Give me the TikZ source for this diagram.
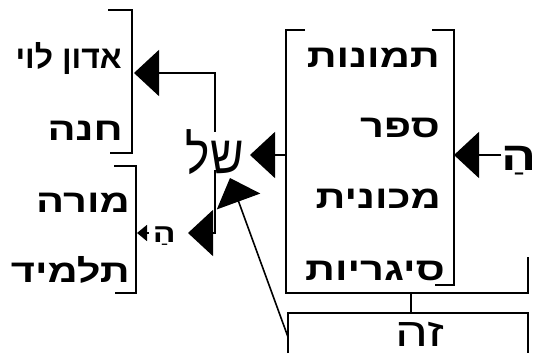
\documentclass[tikz,border=0pt]{standalone}
\usepackage{fontspec}
\newfontfamily\hebfont[Script=Hebrew,FakeStretch=1.3]{Liberation Sans}
\newfontfamily\hebplain[Script=Hebrew]{Liberation Sans}
\newfontfamily\hebnarrow[Script=Hebrew,FakeStretch=0.85]{Liberation Sans}
\TeXXeTstate=1
\usetikzlibrary{arrows.meta,positioning}
\newcommand\rtl[1]{\beginR#1\endR}

\begin{document}
\begin{tikzpicture}[
    x=1pt, y=-1pt,
    word/.style={font=\hebfont\bfseries\fontsize{32}{32}\selectfont, anchor=base east, inner sep=0pt},
    bigword/.style={font=\hebnarrow\fontsize{54}{54}\selectfont, anchor=base east, inner sep=0pt},
    article/.style={font=\hebfont\bfseries\fontsize{40}{40}\selectfont, anchor=base east, inner sep=0pt},
    bracket/.style={line width=1.6pt},
    bigarrow/.style={line width=1.6pt, -{Triangle[length=25pt,width=46pt]}},
    smallarrow/.style={line width=1.6pt, -{Triangle[length=10pt,width=16pt]}},
    coord/.style={coordinate}
]
    \useasboundingbox (0,0) rectangle (540,353);

    % Rechte Liste (Objekte)
    \node[word] (pics) at (440,67) {\rtl{תמונות}};
    \node[word] (book) at (440,137) {\rtl{ספר}};
    \node[word] (car) at (441,208) {\rtl{מכונית}};
    \node[word] (cigs) at (445,280) {\rtl{סיגריות}};
    \draw[bracket] (305,30) -- (286,30) -- (286,293) -- (528,293) -- (528,257);
    \draw[bracket] (432,30) -- (454,30) -- (454,285) -- (435,285);

    % Linke Listen (Besitzer)
    \node[word, font=\hebplain\bfseries\fontsize{32}{32}\selectfont] (levi) at (122,68) {\rtl{אדון לוי}};
    \node[word] (hana) at (123,140) {\rtl{חנה}};
    \node[word] (teacher) at (130,212) {\rtl{מורה}};
    \node[word] (pupil) at (130,282) {\rtl{תלמיד}};
    \draw[bracket] (108,10) -- (132,10) -- (132,153) -- (110,153);
    \draw[bracket] (114,166) -- (136,166) -- (136,293) -- (115,293);

    % Mitte und unten
    \node[bigword] (shel) at (244,173) {\rtl{של}};
    \node[article] (artR) at (537,170) {\rtl{הַ}};
    \node[word, font=\hebfont\bfseries\fontsize{26}{26}\selectfont] (artL) at (176,242) {\rtl{הַ}};
    \node[article, font=\hebfont\fontsize{40}{40}\selectfont] (zeh) at (444,346) {\rtl{זה}};
    \draw[bracket] (288,353) -- (288,313) -- (528,313) -- (528,353);

    % Anschlusspunkte
    \coordinate (listR) at (454,155);
    \coordinate (listL) at (286,155);
    \coordinate (shelR) at (250,155);
    \coordinate (upperB) at (134,73);
    \coordinate (lowTip) at (188,233);
    \coordinate (lowerB) at (137,233);
    \coordinate (listBot) at (411,293);
    \coordinate (zehTop) at (411,313);
    \coordinate (zehL) at (288,337);
    \coordinate (diagTip) at (230,178);

    % Pfeile
    \draw[bigarrow] (artR.west |- listR) -- (listR);
    \draw[bigarrow] (listL) -- (shelR);
    \draw[bigarrow] ([yshift=-3pt]shel.north) |- (upperB);
    \draw[bigarrow] ([yshift=4pt]shel.south) |- (lowTip);
    \draw[smallarrow] ([xshift=-4pt]artL.west |- lowerB) -- (lowerB);
    \draw[bracket] (listBot) -- (zehTop);
    \draw[bigarrow] (zehL) -- (diagTip);
\end{tikzpicture}
\end{document}
